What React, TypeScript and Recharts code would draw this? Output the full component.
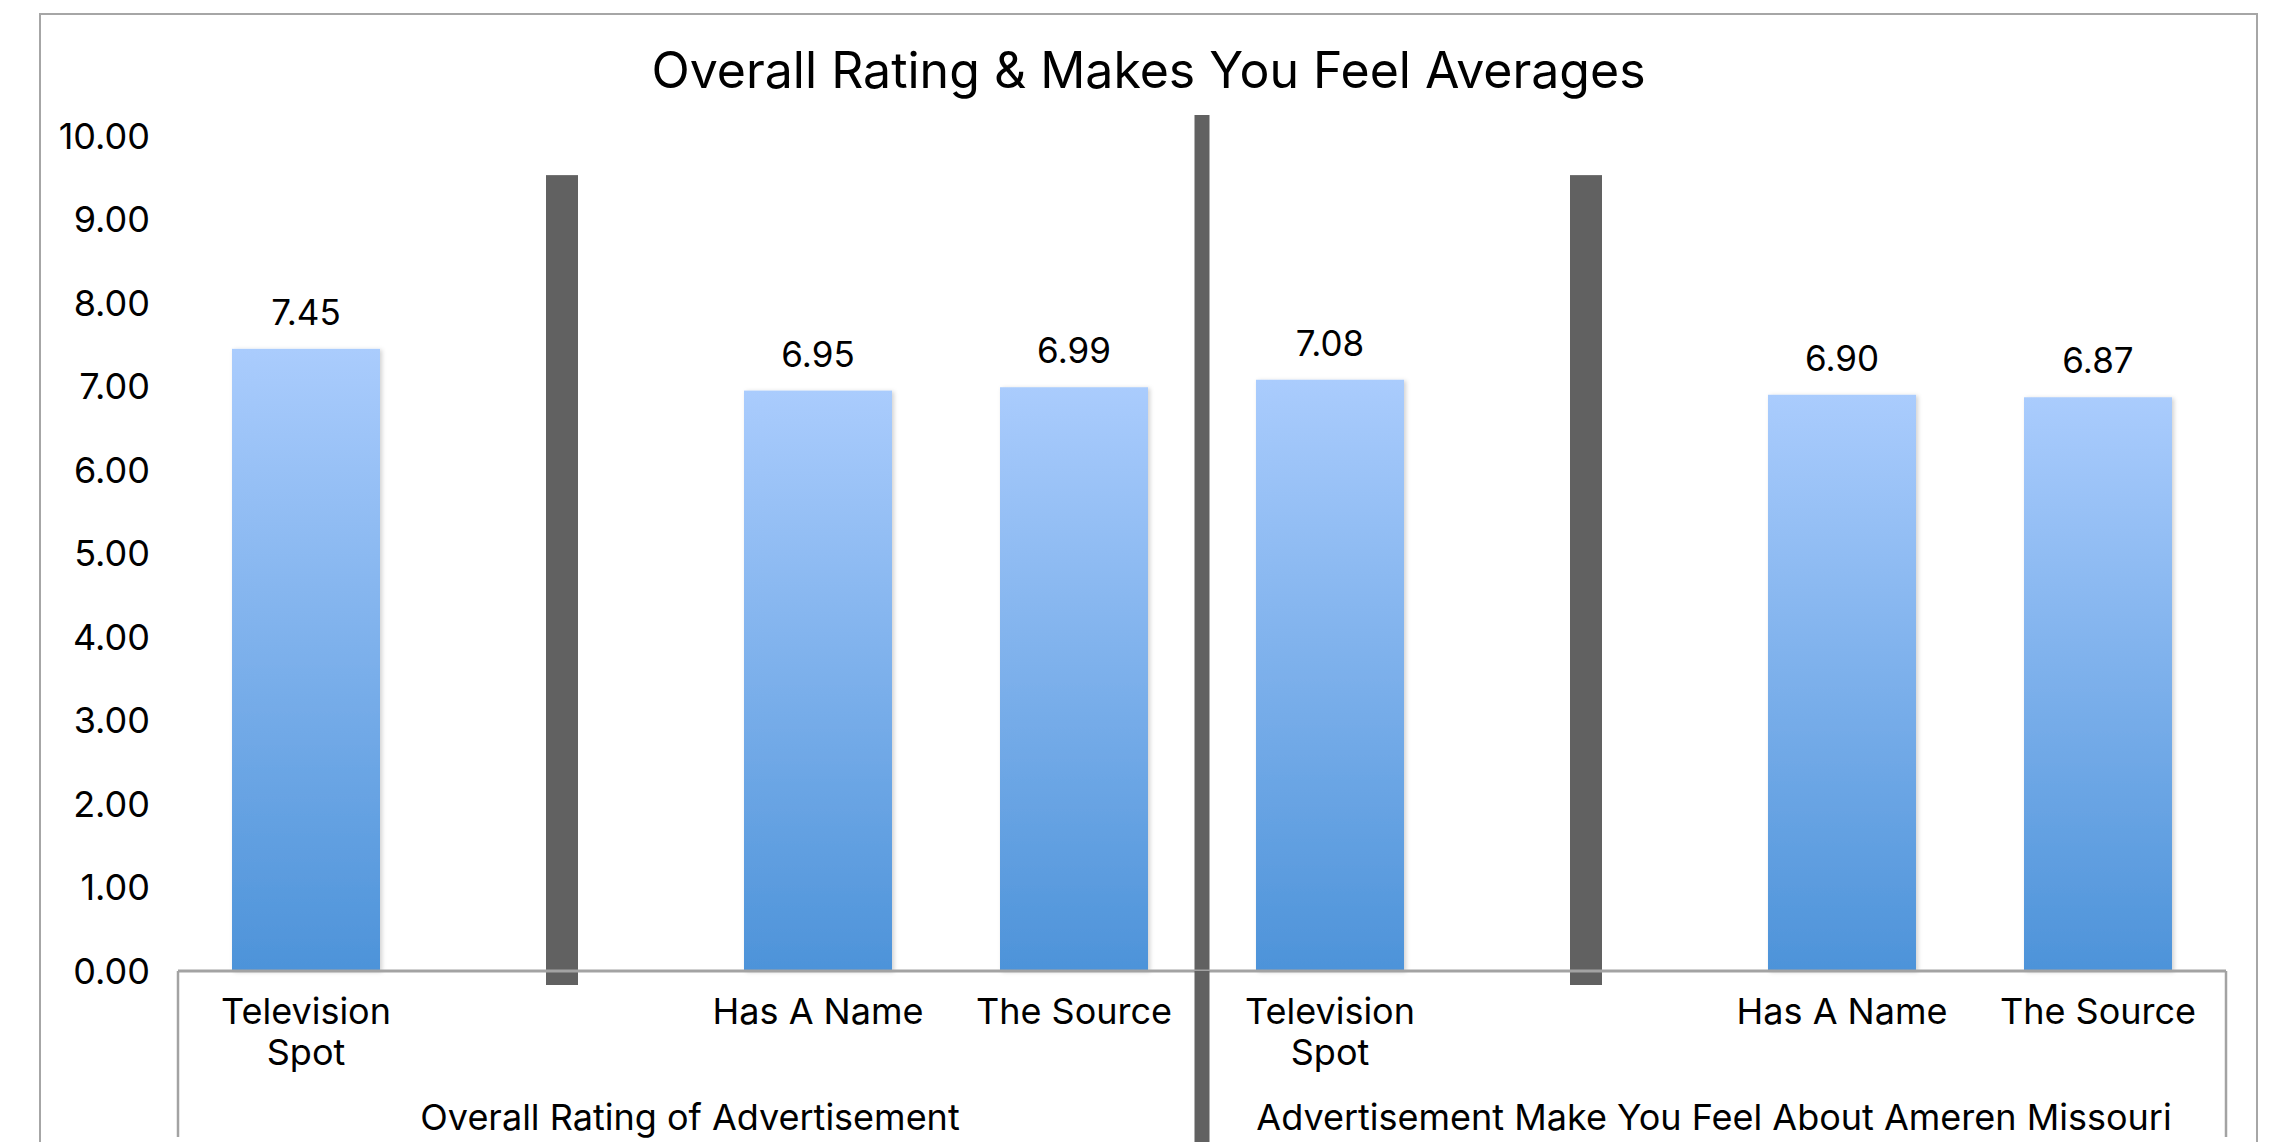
import React from "react";
import {
  BarChart,
  Bar,
  XAxis,
  YAxis,
  LabelList,
  ReferenceLine,
} from "recharts";

// ---------------------- DATA ----------------------
const categories = [
  "Television Spot",
  "",
  "Has A Name",
  "The Source",
  "Television Spot",
  "",
  "Has A Name",
  "The Source",
];
const ratings = [7.45, null, 6.95, 6.99, 7.08, null, 6.9, 6.87];
// dark spacer bars sitting in the empty slot of each group
const spacers = [null, 9.53, null, null, null, 9.53, null, null];
const groups = [
  "Overall Rating of Advertisement",
  "Advertisement Make You Feel About Ameren Missouri",
];
const yTicks = [0, 1, 2, 3, 4, 5, 6, 7, 8, 9, 10];

const rows = categories.map((c, i) => ({
  slot: i,
  category: c,
  rating: ratings[i],
  spacer: spacers[i],
}));

const SLOTS = categories.length;
const PER_GROUP = SLOTS / groups.length;

// ---------------------- STYLE ----------------------
const W = 2286;
const H = 1142;
const FONT = "Inter, 'Noto Sans', sans-serif";
const DARK = "#616161";
const LINE = "#A3A3A3";
const AXIS_FONT = 36;
const TICK_GAP = 27; // axis line -> first label line top
const LINE_H = 41;
const GROUP_DY = 119; // first label top -> group label centre
const BOUNDARY_END = 139;
const SPACER_OVERHANG = 14;
const WRAP_WIDTH = 230;

let measureCtx: CanvasRenderingContext2D | null = null;
function wrapLabel(label: string): string[] {
  if (!measureCtx) measureCtx = document.createElement("canvas").getContext("2d");
  if (!measureCtx) return [label];
  measureCtx.font = `${AXIS_FONT}px Inter`;
  const lines: string[] = [];
  let cur = "";
  for (const word of label.split(" ")) {
    const next = cur ? `${cur} ${word}` : word;
    if (cur && measureCtx.measureText(next).width > WRAP_WIDTH) {
      lines.push(cur);
      cur = word;
    } else cur = next;
  }
  if (cur) lines.push(cur);
  return lines;
}

const CategoryTick = (props: any) => {
  const { x, y, payload, index, width } = props;
  const half = width / SLOTS / 2;
  const lines = payload.value ? wrapLabel(String(payload.value)) : [];
  const parts: React.ReactNode[] = [];

  parts.push(
    <text
      key="label"
      x={x}
      y={y}
      textAnchor="middle"
      fontSize={AXIS_FONT}
      fontFamily={FONT}
      fill="#000"
    >
      {lines.map((l, i) => (
        <tspan key={i} x={x} dy={i === 0 ? "0.71em" : LINE_H}>
          {l}
        </tspan>
      ))}
    </text>
  );

  if (index % PER_GROUP === 0) {
    const left = x - half;
    const mid = index !== 0;
    parts.push(
      <line
        key="bl"
        x1={left}
        x2={left}
        y1={y - TICK_GAP}
        y2={mid ? y + BOUNDARY_END + 40 : y + BOUNDARY_END}
        stroke={mid ? DARK : LINE}
        strokeWidth={mid ? 15 : 2.5}
      />
    );
    parts.push(
      <text
        key="group"
        x={left + half * PER_GROUP}
        y={y + GROUP_DY}
        dy="0.36em"
        textAnchor="middle"
        fontSize={AXIS_FONT}
        fontFamily={FONT}
        fill="#000"
      >
        {groups[index / PER_GROUP]}
      </text>
    );
  }
  if (index === SLOTS - 1) {
    parts.push(
      <line
        key="br"
        x1={x + half}
        x2={x + half}
        y1={y - TICK_GAP}
        y2={y + BOUNDARY_END}
        stroke={LINE}
        strokeWidth={2.5}
      />
    );
  }
  return <g>{parts}</g>;
};

const RatingBar = (props: any) => {
  const { x, y, width, height, payload } = props;
  if (payload.rating == null) return null;
  return (
    <rect
      x={x}
      y={y}
      width={width}
      height={height}
      fill="url(#ratingFill)"
      filter="url(#barShadow)"
    />
  );
};

const SpacerBar = (props: any) => {
  const { x, y, width, height, payload } = props;
  if (payload.spacer == null) return null;
  return (
    <rect x={x} y={y} width={width} height={height + SPACER_OVERHANG} fill={DARK} />
  );
};

export default function App() {
  return (
    <div
      style={{
        position: "absolute",
        left: 0,
        top: 0,
        width: W,
        height: H,
        overflow: "hidden",
        background: "#fff",
        fontFamily: FONT,
      }}
    >
      <div
        style={{
          position: "absolute",
          left: 39,
          top: 13,
          width: 2215,
          height: 1300,
          border: "2px solid #A6A6A6",
        }}
      />
      <div
        style={{
          position: "absolute",
          left: 39,
          width: 2219,
          top: 40,
          textAlign: "center",
          fontSize: 50,
          lineHeight: "60px",
          color: "#000",
        }}
      >
        Overall Rating &amp; Makes You Feel Averages
      </div>
      <div style={{ position: "absolute", left: 0, top: 0 }}>
        <BarChart
          width={W}
          height={H}
          data={rows}
          margin={{ top: 115, right: 60, bottom: 0, left: 38 }}
        >
          <defs>
            <linearGradient id="ratingFill" x1="0" y1="0" x2="0" y2="1">
              <stop offset="0%" stopColor="#AACCFD" />
              <stop offset="100%" stopColor="#4D93D9" />
            </linearGradient>
            <filter id="barShadow" x="-10%" y="-5%" width="120%" height="110%">
              <feDropShadow dx="2" dy="1" stdDeviation="2" floodColor="#000" floodOpacity="0.18" />
            </filter>
          </defs>
          <YAxis
            domain={[0, 10.25]}
            ticks={yTicks}
            tickFormatter={(v: number) => v.toFixed(2)}
            axisLine={false}
            tickLine={false}
            width={140}
            tickMargin={22}
            tick={{ fontSize: AXIS_FONT, fontFamily: FONT, fill: "#000" }}
          />
          <XAxis
            dataKey="category"
            xAxisId="a_cat"
            interval={0}
            height={H - 971}
            axisLine={{ stroke: LINE, strokeWidth: 3 }}
            tickLine={false}
            tickMargin={21}
            tick={<CategoryTick />}
          />
          <XAxis dataKey="slot" xAxisId="b_slot" hide />
          <ReferenceLine
            xAxisId="b_slot"
            x={SLOTS / 2}
            position="start"
            stroke={DARK}
            strokeWidth={15}
          />
          <Bar
            dataKey="rating"
            xAxisId="a_cat"
            barSize={148}
            shape={<RatingBar />}
            isAnimationActive={false}
          >
            <LabelList
              dataKey="rating"
              position="top"
              offset={24}
              formatter={(v: any) => (v == null ? "" : Number(v).toFixed(2))}
              style={{ fontSize: 35, fontFamily: FONT, fill: "#000" }}
            />
          </Bar>
          <Bar
            dataKey="spacer"
            xAxisId="b_slot"
            barSize={32}
            shape={<SpacerBar />}
            isAnimationActive={false}
          />
        </BarChart>
      </div>
    </div>
  );
}
